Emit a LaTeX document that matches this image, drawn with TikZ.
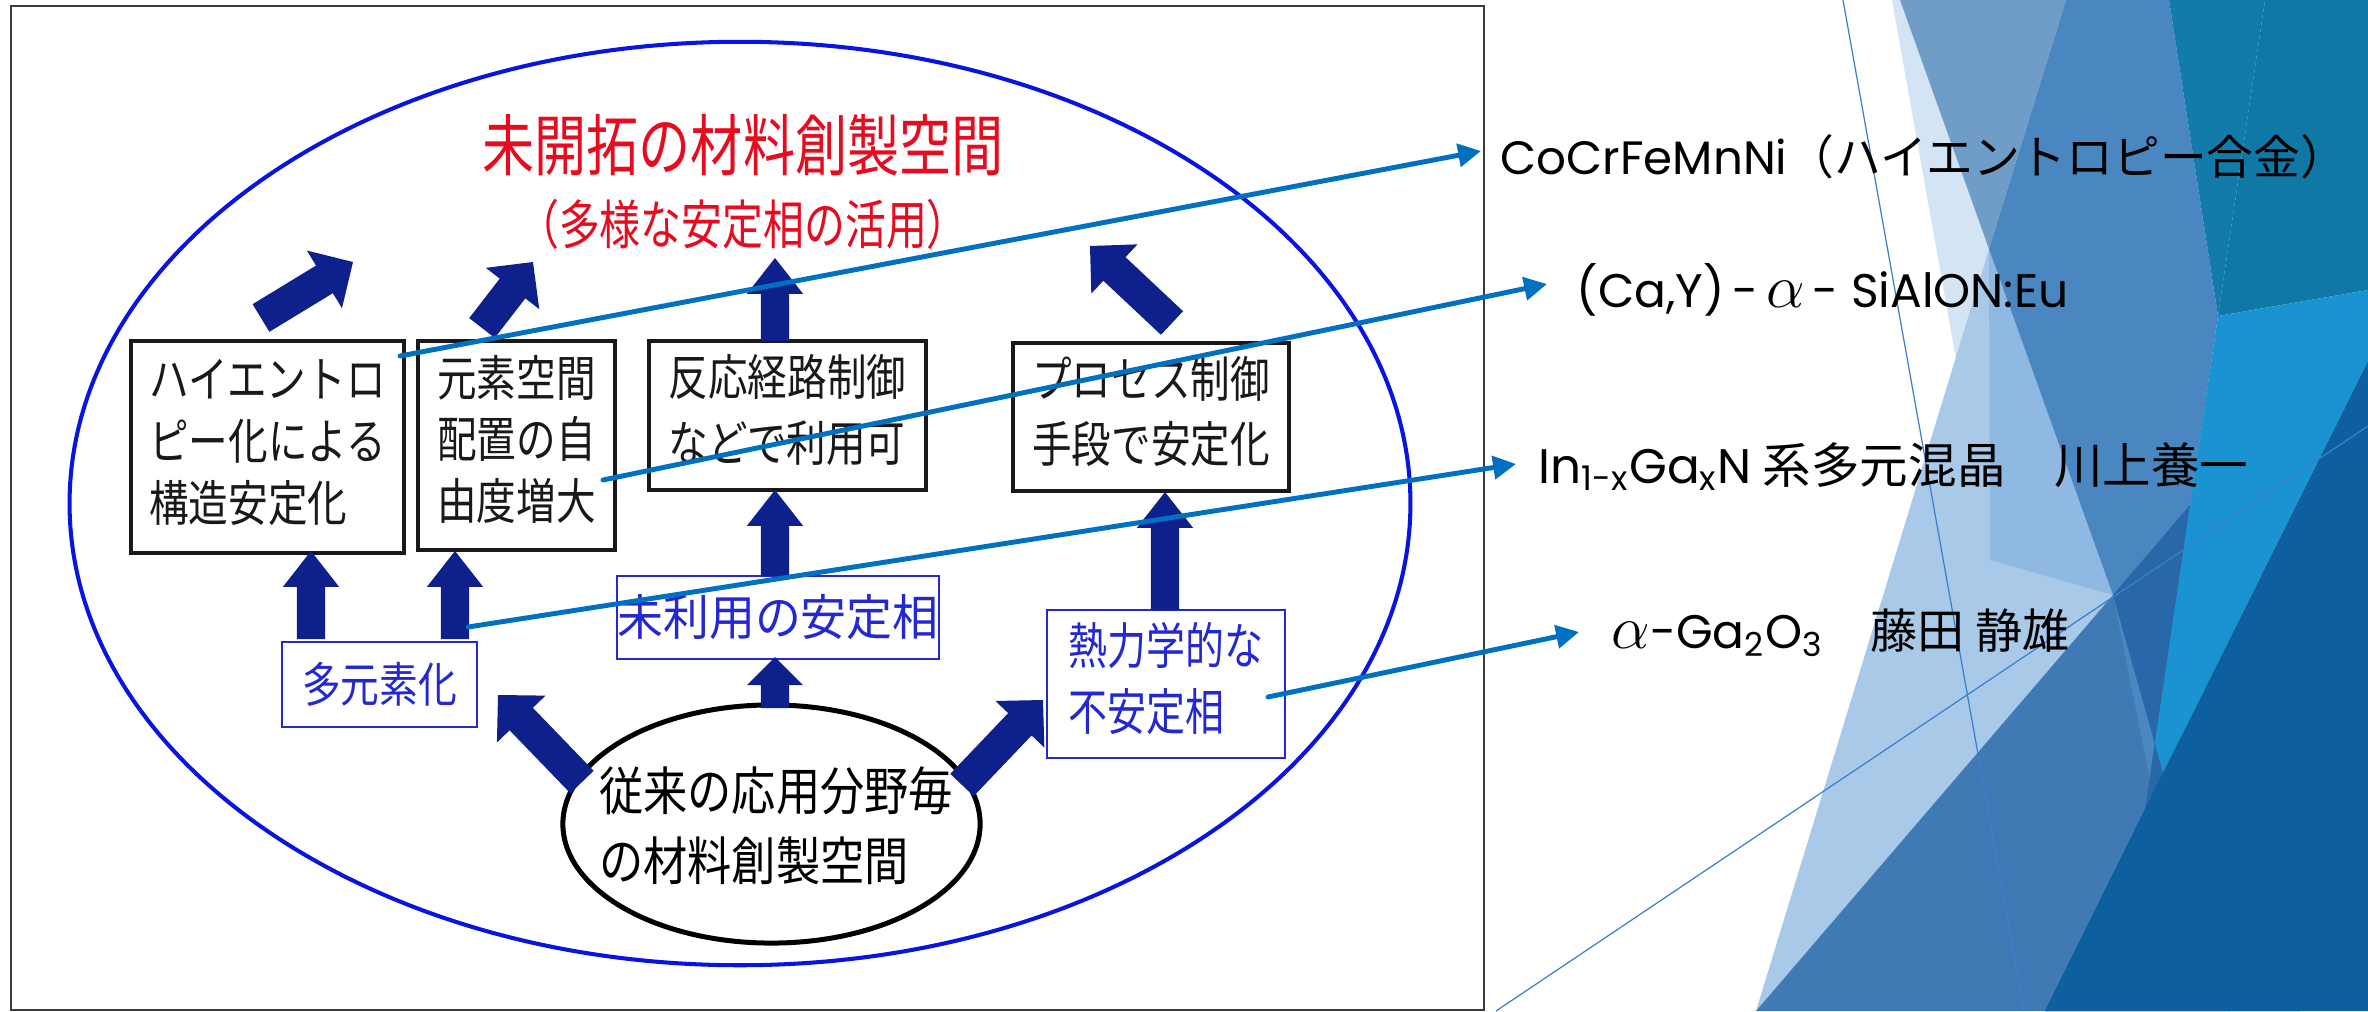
\RequirePackage{fix-cm}
\documentclass[tikz,border=0pt]{standalone}
\usepackage{fontspec}
\setmainfont{Noto Sans CJK JP}
\newfontfamily\pop{Poppins}
\usepackage{graphicx}
\usetikzlibrary{calc,arrows.meta,shapes.geometric}

\definecolor{navy}{RGB}{14,32,140}
\definecolor{ringblue}{RGB}{10,20,225}
\definecolor{titlered}{RGB}{232,10,30}
\definecolor{boxblue}{RGB}{35,40,210}
\definecolor{connc}{RGB}{0,112,192}
\definecolor{framegray}{RGB}{60,60,60}
\definecolor{fpale}{RGB}{211,228,244}
\definecolor{flight}{RGB}{168,201,232}
\definecolor{flight2}{RGB}{143,185,226}
\definecolor{fgray}{RGB}{111,157,200}
\definecolor{fmid}{RGB}{74,134,191}
\definecolor{fsteel}{RGB}{63,122,181}
\definecolor{fteal}{RGB}{19,123,170}
\definecolor{fteal2}{RGB}{15,120,165}
\definecolor{fbright}{RGB}{27,147,211}
\definecolor{fdark}{RGB}{13,95,160}
\definecolor{fdarkmid}{RGB}{40,104,168}
\definecolor{fline}{RGB}{60,127,207}

\newcommand\sq[2]{\scalebox{#1}[1]{#2}}
\newcommand\alp{\scalebox{1.3}{$\alpha$}}
% block arrow: tail, tip, shaft half width, head half width, head length
\newcommand\blockarr[5]{%
 \fill[navy] let \p1=(#1), \p2=(#2), \n1={atan2(\y2-\y1,\x2-\x1)}, \n2={veclen(\x2-\x1,\y2-\y1)-#5} in
  ($(\p1)+({\n1+90}:#3)$) -- ($(\p1)+(\n1:\n2)+({\n1+90}:#3)$) -- ($(\p1)+(\n1:\n2)+({\n1+90}:#4)$) -- (\p2)
  -- ($(\p1)+(\n1:\n2)+({\n1-90}:#4)$) -- ($(\p1)+(\n1:\n2)+({\n1-90}:#3)$) -- ($(\p1)+({\n1-90}:#3)$) -- cycle;}

\tikzset{
 bbox/.style={draw=black!90, line width=0.95pt, inner sep=0pt, text=black!90,
   font=\fontsize{13.9pt}{17.6pt}\selectfont},
 bluebox/.style={draw=boxblue, line width=0.66pt, inner sep=0pt, text=boxblue},
 connline/.style={draw=connc, line width=1.4pt, line cap=round,
   -{Triangle[length=6.5pt,width=6.5pt]}},
 rtext/.style={anchor=base west, inner sep=0pt, text=black},
 thinline/.style={draw=fline, line width=0.35pt}
}

\begin{document}
\begin{tikzpicture}[x=0.01cm,y=-0.01cm]
\useasboundingbox (0,0) rectangle (2368,1011);
\fill[white] (0,0) rectangle (2368,1011);

% ---------- right-hand background facets ----------
\fill[fpale] (1892,0) -- (1900,0) -- (1989,249) -- (1956,359) -- cycle;
\fill[fgray] (1900,0) -- (2066,0) -- (1989,249) -- cycle;
\fill[flight] (1989,249) -- (2113,595) -- (1756,1011) -- cycle;
\fill[flight2] (1989,249) -- (2113,595) -- (1990,560) -- cycle;
\fill[fsteel] (2113,595) -- (2300,1011) -- (1756,1011) -- cycle;
\fill[fmid] (2066,0) -- (2169,0) -- (2218,316) -- (2150,780) -- (2113,595) -- (1989,249) -- cycle;
\fill[fteal] (2169,0) -- (2265,0) -- (2218,316) -- cycle;
\fill[fteal2] (2265,0) -- (2368,0) -- (2368,290) -- (2218,316) -- cycle;
\fill[fbright] (2218,316) -- (2368,290) -- (2368,361) -- (2145,809) -- cycle;
\fill[fdarkmid] (2113,595) -- (2190,505) -- (2145,809) -- (2045,1011) -- (2230,1011) -- cycle;
\fill[fdark] (2368,361) -- (2368,1011) -- (2045,1011) -- (2145,809) -- cycle;
\coordinate (la1) at (1843,0);
\coordinate (la2) at (2024,1011);
\coordinate (lb1) at (1496,1011);
\coordinate (lb2) at (2368,426);
\draw[thinline] (la1) -- (la2);
\draw[thinline] (lb1) -- (lb2);

% ---------- embedded picture frame ----------
\node[draw=framegray, line width=0.5pt, fill=white, inner sep=0pt,
      minimum width=418.8pt, minimum height=285.5pt] (frame) at (747.5,508) {};

% big ring
\node[ellipse, draw=ringblue, line width=1.15pt, inner sep=0pt,
      minimum width=381.3pt, minimum height=262.6pt] (ring) at (740,503.5) {};

% title
\node[text=titlered, font=\fontsize{19pt}{22pt}\selectfont, inner sep=0pt] (title1) at (743,145)
  {\sq{0.78}{未開拓の材料創製空間}};
\node[text=titlered, font=\fontsize{15.1pt}{18pt}\selectfont, inner sep=0pt] (title2) at (743,224)
  {\sq{0.77}{（多様な安定相の活用）}};

% upper boxes
\node[bbox, minimum width=77.68pt, minimum height=60.32pt] (b1) at (267.5,447)
  {\sq{0.81}{\begin{tabular}{@{}l@{}}ハイエントロ\\ピー化による\\構造安定化\end{tabular}}};
\node[bbox, minimum width=56.05pt, minimum height=59.47pt] (b2) at (516.5,445.5)
  {\sq{0.81}{\begin{tabular}{@{}l@{}}元素空間\\配置の自\\由度増大\end{tabular}}};
\node[bbox, font=\fontsize{13.9pt}{18.6pt}\selectfont, minimum width=78.81pt, minimum height=42.4pt] (b3) at (787.5,415.5)
  {\sq{0.81}{\begin{tabular}{@{}l@{}}反応経路制御\\などで利用可\end{tabular}}};
\node[bbox, font=\fontsize{13.9pt}{18.6pt}\selectfont, minimum width=78.53pt, minimum height=42.1pt] (b4) at (1151,417)
  {\sq{0.81}{\begin{tabular}{@{}l@{}}プロセス制御\\手段で安定化\end{tabular}}};

% lower blue boxes
\node[bluebox, font=\fontsize{13.6pt}{16pt}\selectfont, minimum width=55.48pt, minimum height=24.19pt] (m) at (379.5,684.5)
  {\sq{0.81}{多元素化}};
\node[bluebox, font=\fontsize{13.9pt}{16pt}\selectfont, minimum width=90.48pt, minimum height=23.62pt] (u) at (778,617.5)
  {\sq{0.94}{未利用の安定相}};
\node[bluebox, font=\fontsize{14.2pt}{18.8pt}\selectfont, minimum width=67.72pt, minimum height=42.11pt] (t) at (1166,684)
  {\sq{0.78}{\begin{tabular}{@{}l@{}}熱力学的な\\不安定相\end{tabular}}};

% bottom ellipse
\node[ellipse, draw=black, line width=1.42pt, inner sep=0pt, fill=white,
      minimum width=118.65pt, minimum height=67.72pt] (e) at (771.5,824) {};
\node[font=\fontsize{14.8pt}{19.9pt}\selectfont, inner sep=0pt] (etext) at (776,831.5)
  {\sq{0.85}{\begin{tabular}{@{}l@{}}従来の応用分野毎\\の材料創製空間\end{tabular}}};

% ---------- block arrows ----------
\coordinate (a1s) at (261,318);  \coordinate (a1e) at (353,262);
\coordinate (a2s) at (482,328);  \coordinate (a2e) at (533,262);
\coordinate (a3s) at (775,341);  \coordinate (a3e) at (775,258);
\coordinate (a4s) at (1172,323); \coordinate (a4e) at (1090,246);
\coordinate (a5s) at (311,639);  \coordinate (a5e) at (311,551);
\coordinate (a6s) at (455,639);  \coordinate (a6e) at (455,551);
\coordinate (a7s) at (775,576);  \coordinate (a7e) at (775,490);
\coordinate (a8s) at (775,708);  \coordinate (a8e) at (775,657);
\coordinate (a9s) at (1165,610); \coordinate (a9e) at (1165,492);
\coordinate (a10s) at (582,782); \coordinate (a10e) at (498,695);
\coordinate (a11s) at (962,785); \coordinate (a11e) at (1043,700);

\blockarr{a1s}{a1e}{4.6pt}{9.6pt}{9.5pt}
\blockarr{a2s}{a2e}{4.6pt}{9.6pt}{9.5pt}
\blockarr{a3s}{a3e}{4pt}{8pt}{10.2pt}
\blockarr{a4s}{a4e}{4.6pt}{9.6pt}{9.5pt}
\blockarr{a5s}{a5e}{4pt}{8pt}{10.2pt}
\blockarr{a6s}{a6e}{4pt}{8pt}{10.2pt}
\blockarr{a7s}{a7e}{4pt}{8pt}{10.2pt}
\blockarr{a8s}{a8e}{4pt}{8pt}{8pt}
\blockarr{a9s}{a9e}{4pt}{8pt}{10.2pt}
\blockarr{a10s}{a10e}{4.6pt}{9.6pt}{9.5pt}
\blockarr{a11s}{a11e}{4.6pt}{9.6pt}{9.5pt}

% ---------- right texts ----------
\node[rtext, font=\fontsize{13.3pt}{16pt}\selectfont] (r1) at (1500,174)
  {{\pop CoCrFeMnNi}（ハイエントロピー合金）};
\node[rtext, font=\fontsize{13.4pt}{16pt}\selectfont] (r2) at (1576,307)
  {{\pop (Ca,Y)\,-\,}\alp{\pop\,- SiAlON:Eu}};
\node[rtext, font=\fontsize{13.8pt}{16pt}\selectfont] (r3) at (1538,483)
  {{\pop In\textsubscript{1-x}Ga\textsubscript{x}N} 系多元混晶　川上養一};
\node[rtext, font=\fontsize{13.4pt}{16pt}\selectfont] (r4) at (1611,648)
  {\alp{\pop -Ga\textsubscript{2}O\textsubscript{3}}　藤田 静雄};

% ---------- connectors ----------
\coordinate (c1s) at (400,356);  \coordinate (c1e) at (1481,151);
\coordinate (c2s) at (603,480);  \coordinate (c2e) at (1547,284);
\coordinate (c3s) at (468,627);  \coordinate (c3e) at (1516,464);
\coordinate (c4s) at (1268,697); \coordinate (c4e) at (1579,632);
\draw[connline] (c1s) -- (c1e);
\draw[connline] (c2s) -- (c2e);
\draw[connline] (c3s) -- (c3e);
\draw[connline] (c4s) -- (c4e);
\end{tikzpicture}
\end{document}
